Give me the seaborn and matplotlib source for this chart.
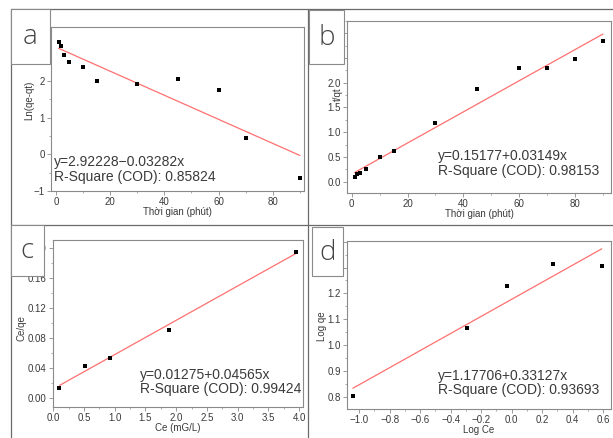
import numpy as np
import pandas as pd
import matplotlib
matplotlib.use("Agg")
import matplotlib.pyplot as plt
from matplotlib.lines import Line2D
from matplotlib.patches import Rectangle
from matplotlib.ticker import MultipleLocator
import seaborn as sns

# ---- data -------------------------------------------------------------
# (a) pseudo-first-order kinetics
t_a = [1, 2, 3, 5, 10, 15, 30, 45, 60, 70, 90]
ln_qe_qt = [3.05, 2.94, 2.71, 2.51, 2.39, 2.00, 1.91, 2.05, 1.75, 0.45, -0.64]
fit_a = (2.92228, -0.03282)
r2_a = 0.85824

# (b) pseudo-second-order kinetics
t_b = [1, 2, 3, 5, 10, 15, 30, 45, 60, 70, 80, 90]
t_qt = [0.10, 0.155, 0.18, 0.26, 0.50, 0.61, 1.19, 1.87, 2.29, 2.30, 2.49, 2.85]
fit_b = (0.15177, 0.03149)
r2_b = 0.98153

# (c) Langmuir isotherm
ce_c = [0.10, 0.51, 0.93, 1.88, 3.95]
ce_qe = [0.0137, 0.043, 0.054, 0.091, 0.1947]
fit_c = (0.01275, 0.04565)
r2_c = 0.99424

# (d) Freundlich isotherm
log_ce = [-1.04, -0.29, -0.03, 0.27, 0.59]
log_qe = [0.804, 1.067, 1.230, 1.313, 1.306]
fit_d = (1.17706, 0.33127)
r2_d = 0.93693

panel_letters = ["a", "b", "c", "d"]
xlabels = ["Thời gian (phút)", "Thời gian (phút)", "Ce (mG/L)", "Log Ce"]
ylabels = ["Ln(qe-qt)", "t/qt", "Ce/qe", "Log qe"]

# ---- style ------------------------------------------------------------
sns.set_style("white")
plt.rcParams["font.family"] = ["Liberation Sans", "DejaVu Sans"]
plt.rcParams["axes.unicode_minus"] = True

W, H = 613, 438
fig = plt.figure(figsize=(W / 100, H / 100), dpi=100)

FRAME = "#8a8a8a"
TXT = "#3a3a3a"
FIT = "#ff7070"


def fx(x):
    return x / W


def fy(y):
    return 1 - y / H


def make_axes(left, right, top, bottom):
    return fig.add_axes([fx(left), fy(bottom), (right - left) / W, (bottom - top) / H])


panels = [
    dict(box=(51, 304, 27, 191), x=t_a, y=ln_qe_qt, fit=fit_a, r2=r2_a,
         xlim=(-1.8, 91.5), ylim=(-1.0, 3.47), xmaj=20, xmin=10, ymaj=1, ymin=0.5,
         fmt_y="{:.0f}", ycut=2.5, text_pos=(0.012, 0.13), sign="−",
         ylab=(-0.067, 0.555), lbl=(11, 50, 9, 64)),
    dict(box=(347, 611, 21, 193), x=t_b, y=t_qt, fit=fit_b, r2=r2_b,
         xlim=(-1.7, 92.9), ylim=(-0.23, 3.25), xmaj=20, xmin=10, ymaj=0.5, ymin=0.25,
         fmt_y="{:.1f}", ycut=2.25, text_pos=(0.345, 0.17), sign="+",
         ylab=(-0.014, 0.573), lbl=(309, 344, 10, 64)),
    dict(box=(52.7, 302.7, 240, 406.7), x=ce_c, y=ce_qe, fit=fit_c, r2=r2_c,
         xlim=(-0.01, 4.06), ylim=(-0.011, 0.211), xmaj=0.5, xmin=0.25, ymaj=0.04, ymin=0.02,
         fmt_y="{:.2f}", ycut=None, text_pos=(0.35, 0.148), sign="+",
         ylab=(-0.103, 0.47), lbl=(11, 44, 225, 276)),
    dict(box=(347, 611, 241, 409), x=log_ce, y=log_qe, fit=fit_d, r2=r2_d,
         xlim=(-1.079, 0.651), ylim=(0.752, 1.403), xmaj=0.2, xmin=0.1, ymaj=0.1, ymin=0.05,
         fmt_y="{:.1f}", ycut=1.25, text_pos=(0.345, 0.155), sign="+",
         ylab=(-0.076, 0.49), lbl=(312, 343, 227, 276)),
]

for i, p in enumerate(panels):
    ax = make_axes(*p["box"])
    df = pd.DataFrame({"x": p["x"], "y": p["y"]})
    b0, b1 = p["fit"]
    xs = np.array([min(p["x"]), max(p["x"])])
    fit_df = pd.DataFrame({"x": xs, "y": b0 + b1 * xs})
    sns.lineplot(data=fit_df, x="x", y="y", ax=ax, color=FIT, linewidth=0.9, zorder=2)
    sns.scatterplot(data=df, x="x", y="y", ax=ax, marker="s", s=11, color="black",
                    edgecolor="black", linewidth=0, zorder=3)
    ax.set_xlim(*p["xlim"])
    ax.set_ylim(*p["ylim"])
    ax.xaxis.set_major_locator(MultipleLocator(p["xmaj"]))
    ax.xaxis.set_minor_locator(MultipleLocator(p["xmin"]))
    ax.yaxis.set_major_locator(MultipleLocator(p["ymaj"]))
    ax.yaxis.set_minor_locator(MultipleLocator(p["ymin"]))

    def yfmt(v, pos, f=p["fmt_y"], cut=p["ycut"]):
        # tick labels under the panel-letter box are left blank
        if cut is not None and v > cut:
            return ""
        return f.format(v).replace("-", "−")

    ax.yaxis.set_major_formatter(plt.FuncFormatter(yfmt))
    if i >= 2:
        ax.xaxis.set_major_formatter(plt.FuncFormatter(
            lambda v, pos: "{:.1f}".format(v).replace("-", "−")))
    else:
        ax.xaxis.set_major_formatter(plt.FuncFormatter(lambda v, pos: "{:.0f}".format(v)))
    ax.tick_params(which="major", direction="out", length=3, width=0.6,
                   color=FRAME, labelsize=7, labelcolor=TXT, pad=1.5,
                   bottom=True, left=True, top=False, right=False)
    ax.tick_params(which="minor", direction="out", length=1.6, width=0.5,
                   color=FRAME, bottom=True, left=True, top=False, right=False)
    for s in ax.spines.values():
        s.set_visible(True)
        s.set_color(FRAME)
        s.set_linewidth(0.8)
    ax.set_xlabel(xlabels[i], fontsize=7, color=TXT, labelpad=0)
    ax.set_ylabel(ylabels[i], fontsize=7, color=TXT)
    ax.yaxis.set_label_coords(*p["ylab"])
    eq = "y={:.5f}{}{:.5f}x".format(b0, p["sign"], abs(b1))
    ax.text(p["text_pos"][0], p["text_pos"][1], eq + "\nR-Square (COD): {:.5f}".format(p["r2"]),
            transform=ax.transAxes, fontsize=10, color=TXT, ha="left", va="center",
            linespacing=1.05)

    # panel letter in its own framed box
    l, r, t, b = p["lbl"]
    fig.patches.append(Rectangle((fx(l), fy(b)), (r - l) / W, (b - t) / H,
                                 transform=fig.transFigure, facecolor="white",
                                 edgecolor=FRAME, linewidth=0.8, zorder=5))
    fig.text(fx((l + r) / 2), fy((t + b) / 2 + 1), panel_letters[i], fontsize=20,
             family=["Open Sans", "DejaVu Sans"], fontweight="light", color="#444444",
             ha="center", va="center", zorder=6)

# table grid around the four panels
grid = [
    ((11, 613), (9, 9)),
    ((11, 11), (9, 438)),
    ((308, 308), (9, 438)),
    ((11, 613), (225, 225)),
]
for (x0, x1), (y0, y1) in grid:
    fig.lines.append(Line2D([fx(x0), fx(x1)], [fy(y0), fy(y1)], transform=fig.transFigure,
                            color="#6a6a6a", linewidth=0.9, zorder=4))

fig.savefig("out.png", dpi=100)
